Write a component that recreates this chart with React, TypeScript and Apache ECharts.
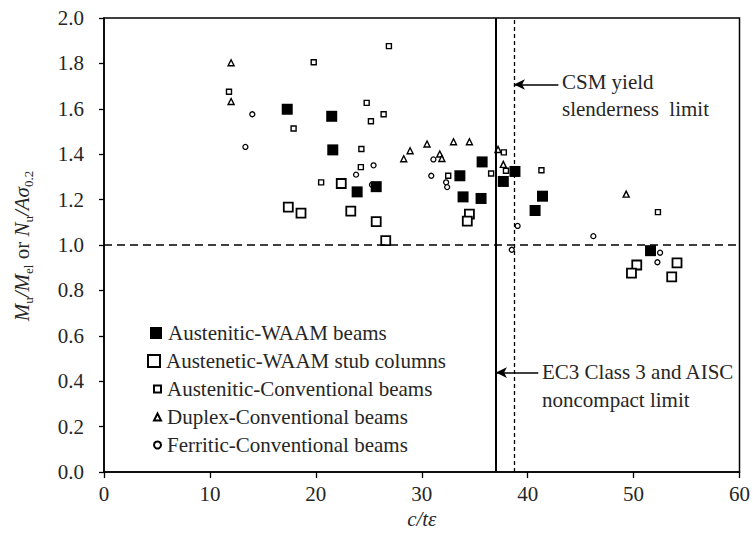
import React, { useEffect, useRef } from "react";
import * as echarts from "echarts";

const FONT = "Liberation Serif";

const X_TICKS = { min: 0, max: 60, interval: 10 };
const Y_TICKS = { min: 0, max: 2, interval: 0.2 };

const EC3_LIMIT = 37;
const CSM_LIMIT = 38.7;
const UNITY = 1.0;

const SERIES_NAMES = [
  "Austenitic-WAAM beams",
  "Austenetic-WAAM stub columns",
  "Austenitic-Conventional beams",
  "Duplex-Conventional beams",
  "Ferritic-Conventional beams",
];

const waamBeams: [number, number][] = [
  [17.3, 1.598], [21.5, 1.567], [21.6, 1.419], [23.9, 1.234], [25.7, 1.257],
  [33.6, 1.305], [35.7, 1.366], [33.9, 1.212], [35.6, 1.205], [37.7, 1.28],
  [38.8, 1.324], [41.4, 1.215], [40.7, 1.152], [51.6, 0.975],
];

const waamStubColumns: [number, number][] = [
  [17.4, 1.167], [18.6, 1.14], [22.4, 1.271], [23.3, 1.149], [25.7, 1.103],
  [26.6, 1.019], [34.5, 1.136], [34.3, 1.105], [50.3, 0.912], [49.8, 0.876],
  [54.1, 0.921], [53.6, 0.86],
];

const austeniticConv: [number, number][] = [
  [11.8, 1.675], [17.9, 1.513], [19.8, 1.805], [26.9, 1.876], [24.8, 1.626],
  [26.4, 1.576], [25.2, 1.545], [24.3, 1.423], [24.25, 1.343], [20.5, 1.276],
  [32.5, 1.305], [36.55, 1.315], [37.75, 1.408], [37.95, 1.327], [41.3, 1.329],
  [52.3, 1.145],
];

const duplexConv: [number, number][] = [
  [12.0, 1.803], [12.0, 1.632], [28.3, 1.38], [28.9, 1.415], [30.5, 1.445],
  [33.0, 1.455], [34.5, 1.455], [31.7, 1.401], [31.9, 1.381], [37.2, 1.421],
  [37.7, 1.355], [49.3, 1.224],
];

const ferriticConv: [number, number][] = [
  [14.0, 1.576], [13.35, 1.432], [23.8, 1.31], [25.45, 1.351], [25.3, 1.265],
  [31.1, 1.377], [30.9, 1.305], [32.3, 1.276], [32.4, 1.255], [39.05, 1.084],
  [38.5, 0.979], [46.2, 1.039], [52.5, 0.966], [52.25, 0.924],
];

const LEGEND_CENTERS_Y = [333, 361, 389, 417, 445];

export default function App() {
  const ref = useRef<HTMLDivElement>(null);

  useEffect(() => {
    if (!ref.current) return;
    const chart = echarts.init(ref.current, null, { renderer: "svg" });

    const textColor = "#262626";
    const FS = 21;

    const scatter = (
      name: string,
      data: [number, number][],
      symbol: string,
      size: number,
      fill: string,
      borderWidth: number,
      z: number
    ) => ({
      name,
      type: "scatter",
      data,
      symbol,
      symbolSize: size,
      z,
      itemStyle: {
        color: fill,
        borderColor: "#000",
        borderWidth,
        opacity: 1,
      },
      emphasis: { disabled: true },
    });

    const legendDefs = [
      { w: 12, left: 150 },
      { w: 12, left: 147 },
      { w: 7, left: 153 },
      { w: 7, left: 153 },
      { w: 7, left: 153 },
    ];

    const option: any = {
      animation: false,
      backgroundColor: "#fff",
      textStyle: { fontFamily: FONT },
      grid: {
        left: 104,
        right: 11,
        top: 18,
        bottom: 66,
        show: true,
        borderColor: "#000",
        borderWidth: 1.5,
        containLabel: false,
      },
      xAxis: {
        type: "value",
        min: X_TICKS.min,
        max: X_TICKS.max,
        interval: X_TICKS.interval,
        name: "c/tε",
        nameLocation: "middle",
        nameGap: 35,
        nameTextStyle: {
          fontFamily: FONT,
          fontStyle: "italic",
          fontSize: FS,
          color: textColor,
        },
        axisLine: { show: true, lineStyle: { color: "#000", width: 1.5 } },
        axisTick: { show: true, inside: false, length: 6, lineStyle: { color: "#000", width: 1.3 } },
        axisLabel: { fontFamily: FONT, fontSize: FS, color: textColor, margin: 11 },
        splitLine: { show: false },
      },
      yAxis: {
        type: "value",
        min: Y_TICKS.min,
        max: Y_TICKS.max,
        interval: Y_TICKS.interval,
        axisLine: { show: true, lineStyle: { color: "#000", width: 1.5 } },
        axisTick: { show: true, inside: false, length: 5, lineStyle: { color: "#000", width: 1.3 } },
        axisLabel: {
          fontFamily: FONT,
          fontSize: FS,
          color: textColor,
          margin: 20,
          formatter: (v: number) => v.toFixed(1),
        },
        splitLine: { show: false },
      },
      legend: SERIES_NAMES.map((name, i) => ({
        data: [name],
        orient: "vertical",
        left: legendDefs[i].left,
        top: LEGEND_CENTERS_Y[i] - 12,
        itemWidth: legendDefs[i].w,
        itemHeight: legendDefs[i].w,
        padding: 0,
        itemGap: 0,
        selectedMode: false,
        textStyle: {
          fontFamily: FONT,
          fontSize: FS,
          color: textColor,
          lineHeight: 24,
          padding: [0, 0, 0, 1],
        },
      })),
      series: [
        {
          name: "limits",
          type: "line",
          data: [],
          z: 1,
          silent: true,
          markLine: {
            silent: true,
            animation: false,
            symbol: ["none", "none"],
            label: { show: false },
            emphasis: { disabled: true },
            data: [
              { xAxis: EC3_LIMIT, lineStyle: { type: "solid", width: 2, color: "#000" } },
              { xAxis: CSM_LIMIT, lineStyle: { type: [4, 3], width: 1.3, color: "#000" } },
              { yAxis: UNITY, lineStyle: { type: [8, 5], width: 1.5, color: "#000" } },
              [
                { coord: [42.9, 1.707], symbol: "none", lineStyle: { type: "solid", width: 1.5, color: "#000" } },
                { coord: [CSM_LIMIT, 1.707], symbol: "arrow", symbolSize: [8, 11] },
              ],
              [
                { coord: [41.0, 0.438], symbol: "none", lineStyle: { type: "solid", width: 1.5, color: "#000" } },
                { coord: [EC3_LIMIT, 0.438], symbol: "arrow", symbolSize: [8, 11] },
              ],
            ],
          },
        },
        scatter(SERIES_NAMES[1], waamStubColumns, "rect", 9, "#fff", 1.8, 3),
        scatter(SERIES_NAMES[2], austeniticConv, "rect", 5, "#fff", 1.4, 4),
        scatter(SERIES_NAMES[3], duplexConv, "triangle", 6, "#fff", 1.4, 4),
        scatter(SERIES_NAMES[4], ferriticConv, "circle", 5, "#fff", 1.3, 4),
        scatter(SERIES_NAMES[0], waamBeams, "rect", 11, "#000", 0, 5),
      ],
      graphic: [
        {
          type: "text",
          x: 22,
          y: 246,
          rotation: Math.PI / 2,
          style: {
            text: "{i|M}{s|u}{i|/M}{s|el}{r| or }{i|N}{s|u}{i|/Aσ}{s|0.2}",
            align: "center",
            verticalAlign: "middle",
            fill: textColor,
            rich: {
              i: { fontFamily: FONT, fontStyle: "italic", fontSize: FS, lineHeight: 26, fill: textColor },
              r: { fontFamily: FONT, fontSize: FS, lineHeight: 26, fill: textColor },
              s: { fontFamily: FONT, fontSize: 13, lineHeight: 13, verticalAlign: "bottom", fill: textColor },
            },
          },
        },
        {
          type: "text",
          x: 562,
          y: 82,
          style: { text: "CSM yield", fontFamily: FONT, fontSize: FS, fill: textColor, verticalAlign: "middle", align: "left" },
        },
        {
          type: "text",
          x: 562,
          y: 109,
          style: { text: "slenderness  limit", fontFamily: FONT, fontSize: FS, fill: textColor, verticalAlign: "middle", align: "left" },
        },
        {
          type: "text",
          x: 542,
          y: 372,
          style: { text: "EC3 Class 3 and AISC", fontFamily: FONT, fontSize: FS, fill: textColor, verticalAlign: "middle", align: "left" },
        },
        {
          type: "text",
          x: 542,
          y: 400,
          style: { text: "noncompact limit", fontFamily: FONT, fontSize: FS, fill: textColor, verticalAlign: "middle", align: "left" },
        },
      ],
    };

    chart.setOption(option);
    return () => chart.dispose();
  }, []);

  return <div ref={ref} style={{ width: 753, height: 538, position: "absolute", left: 0, top: 0 }} />;
}
